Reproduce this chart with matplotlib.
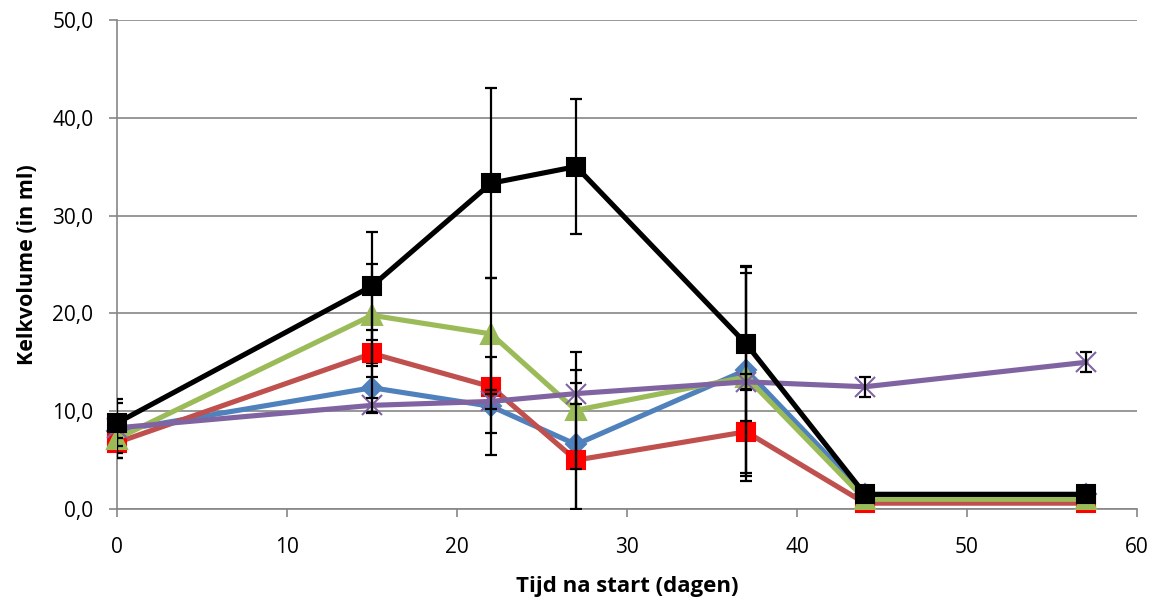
import matplotlib.pyplot as plt
from matplotlib.ticker import FuncFormatter

plt.rcParams['font.family'] = ['Open Sans', 'DejaVu Sans']

# dagen na start
dagen = [0, 15, 22, 27, 37, 44, 57]

blauw = [8.0, 12.4, 10.5, 6.6, 14.2, 1.5, 1.5]
blauw_err = [2.8, 2.5, 5.0, 7.6, 10.5, 0, 0]
rood = [6.8, 15.9, 12.5, 5.0, 7.9, 0.6, 0.6]
rood_err = [1.6, 2.4, 4.7, 5.0, 4.5, 0, 0]
groen = [7.2, 19.8, 17.9, 10.1, 13.5, 1.0, 1.0]
groen_err = [1.5, 5.2, 5.7, 6.0, 10.6, 0, 0]
paars = [8.3, 10.6, 11.0, 11.8, 13.0, 12.5, 15.0]
paars_err = [1.0, 0.8, 0.8, 1.1, 0.8, 1.0, 1.0]
zwart = [8.8, 22.8, 33.3, 35.0, 16.9, 1.5, 1.5]
zwart_err = [2.4, 5.5, 9.7, 6.9, 7.9, 0, 0]

fig = plt.figure(figsize=(11.59, 6.01), dpi=100)
ax = fig.add_axes([0.101, 0.153, 0.880, 0.814])

# (waarden, fout, lijnkleur, marker, markerkleur, markergrootte)
series = [
    (blauw, blauw_err, '#4F81BD', 'D', '#4F81BD', 10),
    (rood, rood_err, '#C0504D', 's', '#FF0000', 13),
    (groen, groen_err, '#9BBB59', '^', '#9BBB59', 14),
    (paars, paars_err, '#8064A2', 'x', '#8064A2', 14),
    (zwart, zwart_err, '#000000', 's', '#000000', 13),
]

z = 3
for y, err, kleur, mk, mkleur, ms in series:
    ax.plot(dagen, y, color=kleur, lw=3.7, marker=mk, markersize=ms,
            markerfacecolor=mkleur, markeredgecolor=mkleur,
            markeredgewidth=1.5, zorder=z, clip_on=False)
    ax.errorbar(dagen, y, yerr=err, fmt='none', ecolor='black', elinewidth=1.6,
                capsize=4.5, capthick=1.6, zorder=z + 0.5, clip_on=True)
    z += 1

ax.set_xlim(0, 60)
ax.set_ylim(0, 50)
ax.set_xticks(range(0, 61, 10))
ax.set_yticks(range(0, 51, 10))
ax.yaxis.set_major_formatter(FuncFormatter(lambda v, p: f'{v:.1f}'.replace('.', ',')))

ax.grid(axis='y', color='#868686', lw=1.2, zorder=0)
for s in ['top', 'right']:
    ax.spines[s].set_visible(False)
for s in ['left', 'bottom']:
    ax.spines[s].set_color('#868686')
    ax.spines[s].set_linewidth(1.2)
ax.tick_params(axis='both', colors='#868686', labelcolor='black',
               labelsize=15, length=6, width=1.2, direction='out')
ax.tick_params(axis='y', pad=11)
ax.tick_params(axis='x', pad=14)

ax.set_xlabel('Tijd na start (dagen)', fontsize=16, fontweight='bold', labelpad=13)
ax.set_ylabel('Kelkvolume (in ml)', fontsize=15.5, fontweight='bold', labelpad=10)

fig.savefig('out.png', dpi=100)
